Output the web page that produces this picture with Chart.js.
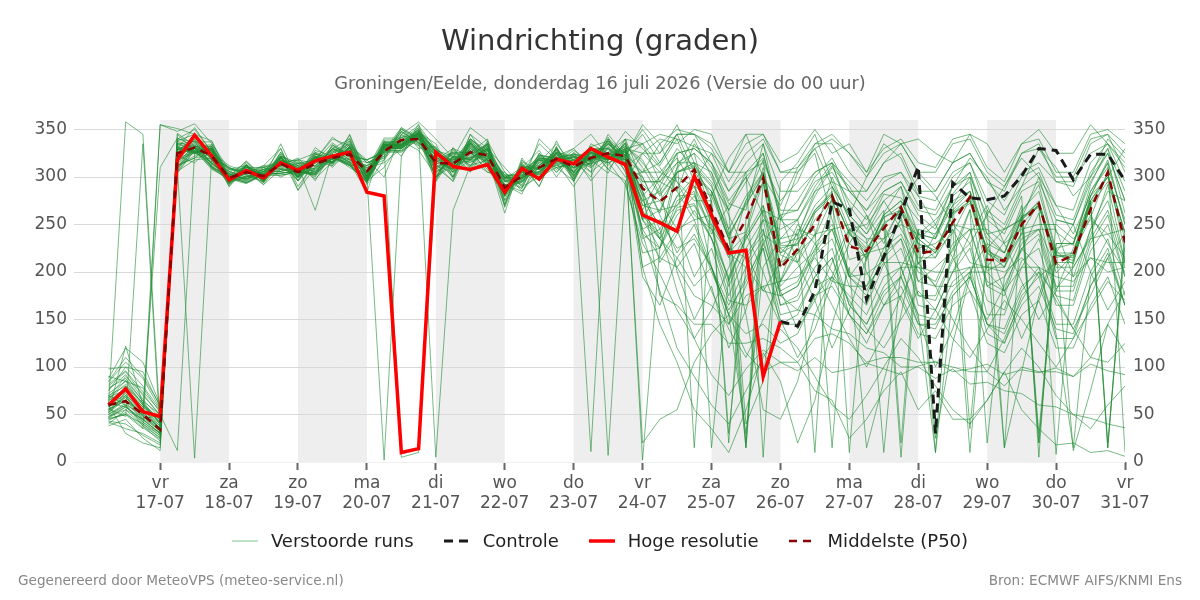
<!DOCTYPE html>
<html>
<head>
<meta charset="utf-8">
<script src="https://cdn.jsdelivr.net/npm/chart.js@4"></script>
<style>
  body { margin: 0; background: #fff; font-family: "DejaVu Sans", sans-serif; }
  #wrap { position: relative; width: 1200px; height: 600px; }
  #title { position: absolute; top: 23px; width: 100%; text-align: center; font-size: 29px; color: #333; }
  #subtitle { position: absolute; top: 72px; width: 100%; text-align: center; font-size: 17.8px; color: #666; }
  #legend { position: absolute; top: 530px; width: 100%; display: flex; justify-content: center; gap: 30px; font-size: 18px; color: #222; }
  #legend .item { display: flex; align-items: center; gap: 13px; }
  .foot { position: absolute; top: 572px; font-size: 13.6px; color: #888; }
</style>
</head>
<body>
<div id="wrap">
  <canvas id="wind"></canvas>
  <div id="title">Windrichting (graden)</div>
  <div id="subtitle">Groningen/Eelde, donderdag 16 juli 2026 (Versie do 00 uur)</div>
  <div id="legend"></div>
  <div class="foot" style="left:18px">Gegenereerd door MeteoVPS (meteo-service.nl)</div>
  <div class="foot" style="right:18px">Bron: ECMWF AIFS/KNMI Ens</div>
</div>
<script>
// tijd in uren na 16-07 00:00
const hours = [6,12,18,24,30,36,42,48,54,60,66,72,78,84,90,96,102,108,114,120,126,132,138,144,150,156,162,168,174,180,186,192,198,204,210,216,222,228,234,240,246,252,258,264,270,276,282,288,294,300,306,312,318,324,330,336,342,348,354,360];

// dagen op de x-as
const dayTicks = [24,48,72,96,120,144,168,192,216,240,264,288,312,336,360];
const dayNames = ['vr','za','zo','ma','di','wo','do','vr','za','zo','ma','di','wo','do','vr'];
const dayDates = ['17-07','18-07','19-07','20-07','21-07','22-07','23-07','24-07','25-07','26-07','27-07','28-07','29-07','30-07','31-07'];
const shadedStarts = [24,72,120,168,216,264,312];

const yTicks = [0,50,100,150,200,250,300,350];

// hoge resolutie (t/m 26-07 00 uur)
const hres = [60,77,53,48,318,344,322,297,307,299,315,307,317,322,326,284,280,10,14,326,311,308,313,284,309,298,319,314,330,321,313,260,252,243,301,260,220,223,90,148];

// controle (vanaf 26-07 00 uur)
const controlHours = [240,246,252,258,264,270,276,282,288,294,300,306,312,318,324,330,336,342,348,354,360];
const control = [148,143,180,274,266,171,216,262,311,30,294,278,276,280,301,330,328,297,324,324,296];

// middelste (P50)
const p50 = [60,64,50,34,325,331,322,299,305,301,314,305,314,320,324,306,327,339,340,315,314,326,323,289,301,310,319,311,320,325,322,288,274,289,308,266,224,255,299,204,224,250,280,227,222,246,268,220,222,252,279,213,212,250,272,209,218,266,305,231];

// verstoorde runs
const perturbedRuns = [
  [55,70,45,30,338,345,318,292,309,296,326,300,331,318,341,292,318,352,330,332,300,345,318,270,320,296,338,304,315,342,310,300,262,310,325,255,215,275,318,190,245,238,300,255,212,262,290,208,240,270,300,205,232,262,292,222,208,280,318,250],
  [72,85,60,45,312,322,330,301,300,306,309,318,296,328,315,284,338,322,356,298,331,308,335,296,288,325,305,322,296,318,336,255,290,200,150,185,120,160,230,260,210,170,120,160,215,250,205,150,100,140,200,230,180,130,170,220,250,200,160,190],
  [48,60,38,22,346,333,325,310,303,312,330,286,318,340,333,318,300,345,358,340,320,352,338,305,290,340,322,330,345,322,348,330,310,285,335,310,272,265,335,255,238,285,312,270,245,282,278,255,236,282,305,240,245,256,300,242,228,292,330,262],
  [60,358,345,40,322,315,332,296,308,303,318,296,326,310,330,296,310,338,328,302,322,318,336,282,312,300,330,300,326,316,292,230,198,160,130,92,70,98,118,105,96,110,94,98,104,98,92,101,106,95,98,103,92,97,94,99,90,103,96,92],
  [45,50,35,355,348,356,335,308,312,298,322,312,308,330,318,312,322,348,336,326,305,318,332,298,310,302,326,322,312,336,318,292,275,300,290,280,235,242,310,218,210,262,280,242,215,252,262,230,215,262,272,225,205,258,270,218,212,272,300,242],
  [65,75,55,40,318,338,312,304,298,308,312,314,305,326,338,300,2,322,348,314,295,332,310,280,308,318,310,296,328,330,306,262,240,280,282,248,192,238,270,185,205,222,268,195,198,212,258,190,205,222,266,185,195,222,262,182,205,238,292,210],
  [58,68,48,35,330,326,328,290,312,294,320,296,318,322,312,312,330,5,10,298,322,315,328,292,285,312,326,318,305,320,332,318,282,305,312,292,238,272,300,228,228,265,282,240,220,258,265,235,220,262,275,222,212,258,268,218,215,275,300,240],
  [80,95,70,50,12,325,316,305,302,295,316,310,320,316,328,296,335,334,345,322,318,320,330,282,305,305,325,318,316,330,315,240,225,268,272,236,175,218,245,165,175,218,235,185,165,208,225,175,170,212,230,170,160,212,225,165,165,222,250,195],
  [40,55,45,30,310,4,324,300,306,292,308,305,304,334,320,310,315,330,352,305,318,328,314,292,296,312,320,302,322,318,340,335,312,340,332,325,285,315,335,285,285,305,315,295,275,300,305,280,275,305,315,275,260,300,310,270,265,315,335,295],
  [62,70,55,38,334,338,320,298,310,306,312,312,265,325,335,315,320,345,335,320,308,335,318,296,298,318,316,318,330,320,328,280,300,320,290,240,270,300,260,220,240,280,310,290,260,230,270,300,280,250,230,260,290,320,300,270,240,280,300,330],
  [52,66,42,28,320,326,327,294,300,304,318,300,310,323,318,298,332,342,344,5,265,312,330,282,305,300,322,305,325,318,327,270,265,270,300,250,220,240,295,190,220,237,277,213,219,235,267,209,221,241,277,201,211,241,273,199,219,257,305,221],
  [70,80,60,42,316,332,314,300,298,302,308,308,306,322,316,310,318,342,333,318,306,330,316,292,294,313,322,304,11,325,312,255,235,265,270,235,185,225,255,175,185,225,245,195,180,215,235,190,185,225,245,185,175,225,240,180,180,235,265,205],
  [50,60,40,25,338,330,332,298,313,300,322,315,312,330,322,318,326,350,340,328,314,338,322,300,300,320,318,322,318,7,295,325,305,325,330,315,275,300,320,265,265,295,305,275,255,285,295,265,260,290,300,260,245,285,295,255,250,300,325,275],
  [58,72,50,36,328,340,318,306,300,308,310,300,322,316,332,300,334,335,348,322,308,333,318,296,296,318,314,318,326,320,330,2,225,275,285,205,145,185,225,145,155,195,215,155,135,175,195,145,140,180,200,135,125,175,195,130,130,185,220,165],
  [46,58,42,30,318,335,315,302,298,306,308,310,308,324,318,312,320,344,334,310,320,320,330,284,306,304,326,306,326,320,330,325,340,335,350,345,305,345,345,315,325,350,325,335,305,345,335,340,325,315,345,335,305,335,350,325,325,355,335,315],
  [68,90,72,48,312,320,324,290,308,292,316,296,316,312,328,296,330,330,342,306,318,318,328,280,305,302,324,302,324,318,326,205,145,105,55,35,10,55,115,85,20,65,145,205,15,85,155,245,25,125,195,265,15,95,175,225,12,75,145,115],
  [55,65,48,32,334,330,330,296,313,298,322,302,322,316,332,315,322,347,336,324,310,334,318,297,298,318,315,328,316,332,318,305,335,295,275,275,30,205,255,245,255,285,295,255,235,10,205,240,255,275,35,225,245,255,20,225,230,275,20,225],
  [75,100,80,55,310,332,311,300,296,303,304,307,304,322,314,296,329,330,342,300,312,318,322,285,300,306,318,305,320,315,322,285,175,165,145,145,125,125,130,120,105,130,135,125,105,110,110,105,105,100,95,95,80,100,95,95,90,110,105,125],
  [42,35,30,20,340,350,326,312,305,312,314,318,314,332,324,318,326,350,342,330,315,340,324,302,302,323,320,324,321,338,323,345,315,345,345,330,295,325,340,305,305,330,340,325,300,325,335,305,305,335,340,305,290,325,330,300,300,340,345,325],
  [85,110,90,60,304,328,309,299,294,302,302,305,302,320,312,294,326,326,340,295,322,305,332,268,312,290,328,295,330,308,330,270,275,245,195,225,170,165,185,190,195,215,190,185,185,210,210,205,200,200,205,205,200,215,195,210,195,215,200,205],
  [50,62,46,33,329,325,328,293,311,295,320,299,320,314,330,300,333,333,346,321,308,332,317,295,295,316,313,317,314,331,316,295,295,325,15,285,235,275,305,220,230,265,285,10,220,260,275,235,220,265,285,220,15,255,275,215,220,275,15,240],
  [64,78,58,42,321,342,321,310,303,311,312,316,312,330,322,318,328,352,341,316,326,326,334,288,312,309,330,310,331,324,333,255,265,305,315,295,265,40,85,255,305,325,255,195,220,225,255,175,175,215,265,20,195,235,245,245,195,245,285,275],
  [38,45,25,12,336,332,334,298,315,298,324,303,324,318,334,304,336,336,349,324,311,335,320,298,298,319,316,320,317,334,319,280,210,240,265,235,195,15,245,175,185,220,245,195,175,220,235,165,160,200,225,155,155,205,235,175,170,230,260,195],
  [78,88,64,50,312,333,314,303,298,306,306,309,306,324,316,298,330,330,343,296,330,310,338,270,315,290,332,296,335,325,318,235,245,280,300,285,245,280,305,235,240,10,290,260,240,265,20,245,240,275,285,240,220,260,30,230,230,285,310,255],
  [88,120,105,60,308,330,310,300,294,303,304,306,303,321,313,295,328,328,341,305,316,316,325,279,303,300,321,301,322,315,324,305,305,295,260,245,220,205,180,175,160,155,140,135,120,115,100,100,88,98,82,84,75,72,60,58,50,46,40,36],
  [48,55,38,26,345,328,330,306,310,300,318,310,300,330,340,305,337,337,350,326,312,336,321,299,299,320,317,321,318,335,320,335,295,315,315,15,195,235,265,255,275,305,315,285,265,285,295,260,245,290,305,255,240,280,5,255,250,295,325,275],
  [66,82,62,44,312,320,334,300,308,304,306,312,298,316,344,299,332,332,345,308,319,319,328,282,306,303,324,304,325,318,327,205,215,245,255,205,165,205,235,165,170,205,225,165,145,185,205,155,10,175,195,145,135,180,205,135,15,195,225,165],
  [56,64,52,38,330,326,329,294,312,296,321,300,321,315,331,301,333,333,346,310,296,340,325,285,310,328,300,325,305,345,322,285,245,180,130,160,205,240,200,150,110,140,190,230,260,210,170,130,160,200,240,270,230,190,150,180,225,260,230,200],
  [44,52,36,24,330,352,326,296,304,308,312,314,318,342,328,308,341,341,354,330,316,340,325,302,302,323,320,324,321,338,323,350,325,355,315,305,265,295,325,255,255,290,315,260,240,275,290,240,235,280,295,230,220,265,285,220,220,280,315,250],
  [82,96,74,54,310,331,311,301,295,303,304,307,304,322,314,297,330,330,343,318,326,312,318,276,310,308,316,310,314,320,318,245,215,205,175,165,145,175,185,145,145,175,185,155,135,165,175,135,130,165,180,125,115,155,170,120,120,165,195,145],
  [52,122,60,40,332,328,331,295,313,297,322,301,322,316,332,302,335,335,348,315,325,326,308,288,310,312,328,310,322,326,340,295,295,285,255,260,225,215,240,225,210,240,245,250,235,235,250,240,225,250,245,245,230,245,250,250,235,255,240,245],
  [60,30,20,15,324,342,321,309,302,310,311,314,311,329,321,315,324,348,337,313,324,324,333,287,311,308,329,309,330,323,332,315,290,325,330,315,265,305,325,260,265,300,320,285,265,295,305,270,265,300,315,265,250,290,305,260,255,305,330,285],
  [98,100,95,58,306,328,308,298,293,302,302,305,302,320,312,294,327,327,340,315,308,328,316,290,296,318,310,315,318,325,318,285,235,215,185,205,155,135,145,125,135,175,195,155,125,165,185,145,145,175,195,145,125,165,185,140,135,185,215,165],
  [47,58,44,31,331,327,330,294,312,296,321,300,321,315,331,301,333,333,346,328,322,318,305,305,285,306,330,308,328,318,335,310,280,305,310,290,240,270,303,225,230,263,283,240,223,257,270,230,223,263,279,223,213,257,273,217,217,275,303,241],
  [70,60,50,355,351,345,338,301,316,300,324,305,324,319,334,305,336,337,349,326,313,336,322,299,300,320,318,321,319,335,321,265,235,310,340,300,260,220,180,210,250,230,200,170,140,120,150,180,160,130,110,140,170,150,125,100,130,160,190,170],
  [56,48,335,30,314,334,314,303,297,305,306,309,306,324,316,298,331,331,344,318,300,335,312,292,282,322,308,318,300,340,305,245,255,225,235,205,155,30,205,235,255,185,195,175,155,195,205,205,185,185,200,200,180,205,205,195,190,215,210,210],
  [62,74,55,310,341,332,332,296,313,298,322,302,322,316,332,302,334,334,347,330,305,340,328,302,288,325,305,326,312,340,325,20,45,55,105,135,155,115,95,105,105,75,65,25,45,75,95,55,75,45,45,65,95,55,35,18,20,10,12,6],
  [54,68,50,36,326,330,322,310,302,298,335,296,324,320,315,300,333,333,346,309,320,320,329,283,307,304,325,305,326,319,328,255,225,305,315,275,20,255,295,205,235,245,15,245,225,250,5,225,230,245,10,220,205,250,270,210,210,270,295,235],
  [62,58,45,50,329,325,328,293,311,295,320,299,320,314,330,300,333,333,346,328,298,338,312,300,305,308,325,312,325,322,330,335,345,340,295,325,305,305,5,295,315,345,295,285,285,315,335,305,285,315,325,295,285,325,335,295,290,335,345,305],
  [90,85,78,52,306,318,320,308,306,294,318,300,328,322,310,298,331,331,344,300,325,306,320,262,318,296,315,290,318,304,340,260,235,205,230,180,140,110,150,190,225,200,165,130,100,135,175,210,185,150,120,95,130,170,200,175,140,110,145,180],
  [43,40,28,18,325,345,322,302,306,304,330,290,316,336,322,305,337,337,350,325,312,336,321,299,299,320,317,321,318,335,320,275,285,315,325,305,245,20,295,230,235,270,290,245,230,260,275,240,235,270,285,235,220,270,20,230,230,285,315,10],
  [76,92,66,46,328,338,310,296,300,306,322,286,310,330,325,298,331,331,344,325,312,328,305,300,292,315,335,312,332,308,296,220,225,260,280,245,190,235,265,180,190,230,250,200,185,225,240,200,190,230,245,190,180,230,245,185,185,245,275,210],
  [50,74,56,34,330,326,329,294,312,296,321,300,321,315,331,301,333,333,346,300,315,326,340,275,300,335,318,330,310,325,300,305,315,345,305,285,235,155,55,45,85,155,195,245,250,275,245,215,215,245,210,205,205,240,245,205,205,235,240,215],
  [66,86,64,40,322,340,318,292,310,310,316,318,325,312,345,302,334,335,347,318,330,322,335,280,316,308,320,298,330,330,310,325,325,345,345,315,285,305,315,275,295,335,335,305,285,315,325,285,285,315,325,295,275,305,315,295,295,325,335,310],
  [58,80,62,40,336,326,318,304,296,310,300,308,318,318,338,299,332,332,345,318,308,330,318,295,298,315,312,318,310,330,318,265,300,330,310,280,320,345,300,270,310,330,290,260,300,335,320,280,250,290,320,300,265,290,330,310,280,300,340,320],
  [84,105,88,56,308,330,310,300,294,303,304,306,303,321,313,295,328,328,341,312,305,325,315,288,295,310,312,310,315,325,315,195,165,215,240,205,155,195,225,155,160,195,215,165,145,180,195,155,150,190,205,145,140,185,200,145,145,200,235,175],
  [46,50,40,28,340,337,337,300,317,300,326,306,326,320,336,306,339,339,352,327,314,338,323,301,301,322,319,323,320,337,322,355,335,350,345,335,305,335,345,305,310,335,345,325,305,330,340,315,310,340,345,310,295,335,340,305,305,345,350,335],
  [68,76,58,44,318,325,326,298,305,302,312,320,302,334,322,299,332,332,345,300,328,312,335,272,314,296,332,298,330,312,336,240,180,120,90,60,40,75,110,140,120,90,60,45,70,100,130,110,80,55,40,65,95,120,100,70,50,35,60,80],
  [52,70,48,34,332,327,330,294,312,296,321,300,321,315,331,301,334,334,347,335,300,345,330,310,290,300,310,315,332,338,312,275,250,270,290,255,225,15,270,210,220,255,275,230,215,250,265,230,10,260,275,220,210,255,270,8,215,270,15,240],
  [60,65,52,36,320,336,318,306,300,308,309,312,309,327,319,301,334,334,347,310,321,321,330,284,308,305,326,306,327,320,329,300,260,220,250,200,160,190,230,180,140,170,210,245,200,165,195,235,250,215,180,150,185,225,205,170,140,175,215,240]
];

const toPoints = (xs, ys) => ys.map((v, i) => ({ x: xs[i], y: v }));

// grafiek
const datasets = [
  {
    label: 'Middelste (P50)',
    data: toPoints(hours, p50),
    borderColor: '#8b0000',
    borderWidth: 2.5,
    borderDash: [8, 6],
    order: 0
  },
  {
    label: 'Hoge resolutie',
    data: toPoints(hours, hres),
    borderColor: '#ff0000',
    borderWidth: 3.5,
    order: 1
  },
  {
    label: 'Controle',
    data: toPoints(controlHours, control),
    borderColor: '#1a1a1a',
    borderWidth: 3,
    borderDash: [9, 6],
    order: 2
  }
];
perturbedRuns.forEach((run, i) => {
  datasets.push({
    label: i === 0 ? 'Verstoorde runs' : '',
    data: toPoints(hours, run),
    borderColor: 'rgba(30,140,50,0.6)',
    borderWidth: 1,
    order: 3
  });
});

const shading = {
  id: 'shading',
  beforeDraw(chart) {
    const { ctx, chartArea, scales } = chart;
    ctx.save();
    ctx.fillStyle = '#eeeeee';
    shadedStarts.forEach(s => {
      const x1 = scales.x.getPixelForValue(s);
      const x2 = scales.x.getPixelForValue(s + 24);
      ctx.fillRect(x1, chartArea.top, x2 - x1, chartArea.bottom - chartArea.top);
    });
    ctx.restore();
  }
};

const tickFont = { family: 'DejaVu Sans', size: 17 };

new Chart(document.getElementById('wind'), {
  type: 'line',
  data: { datasets },
  plugins: [shading],
  options: {
    responsive: true,
    maintainAspectRatio: false,
    animation: false,
    layout: { padding: { top: 120, left: 0, right: 0, bottom: 0 } },
    elements: { point: { radius: 0 }, line: { tension: 0, fill: false } },
    plugins: { legend: { display: false }, tooltip: { enabled: false } },
    scales: {
      x: {
        type: 'linear',
        min: -6,
        max: 360,
        afterBuildTicks: a => { a.ticks = dayTicks.map(v => ({ value: v })); },
        afterFit: a => { a.height = 138; },
        border: { display: false },
        grid: { drawOnChartArea: false, tickLength: 8, tickColor: '#666', tickWidth: 2 },
        ticks: {
          font: tickFont,
          color: '#555',
          padding: 3,
          maxRotation: 0,
          autoSkip: false,
          callback: v => {
            const i = dayTicks.indexOf(v);
            return [dayNames[i], dayDates[i]];
          }
        }
      },
      y: {
        position: 'left',
        min: 0,
        max: 360,
        afterBuildTicks: a => { a.ticks = yTicks.map(v => ({ value: v })); },
        afterFit: a => { a.width = 74; },
        border: { display: false },
        grid: {
          drawTicks: false,
          color: c => (c.tick && c.tick.value === 0 ? '#f0f0f0' : '#d9d9d9')
        },
        ticks: { font: tickFont, color: '#555', padding: 7 }
      },
      y2: {
        position: 'right',
        min: 0,
        max: 360,
        afterBuildTicks: a => { a.ticks = yTicks.map(v => ({ value: v })); },
        afterFit: a => { a.width = 75; },
        border: { display: false },
        grid: { display: false, drawTicks: false },
        ticks: { font: tickFont, color: '#555', padding: 8 }
      }
    }
  }
});

// legenda
const legendOrder = [
  { label: 'Verstoorde runs', color: '#7cc489', width: 1, dash: '' },
  { label: 'Controle', color: '#1a1a1a', width: 3, dash: '9,6' },
  { label: 'Hoge resolutie', color: '#ff0000', width: 3.5, dash: '' },
  { label: 'Middelste (P50)', color: '#8b0000', width: 2.5, dash: '8,6' }
];
document.getElementById('legend').innerHTML = legendOrder.map(l =>
  '<span class="item"><svg width="26" height="10"><line x1="0" y1="5" x2="26" y2="5" stroke="' + l.color +
  '" stroke-width="' + l.width + '"' + (l.dash ? ' stroke-dasharray="' + l.dash + '"' : '') +
  '/></svg><span>' + l.label + '</span></span>'
).join('');
</script>
</body>
</html>
